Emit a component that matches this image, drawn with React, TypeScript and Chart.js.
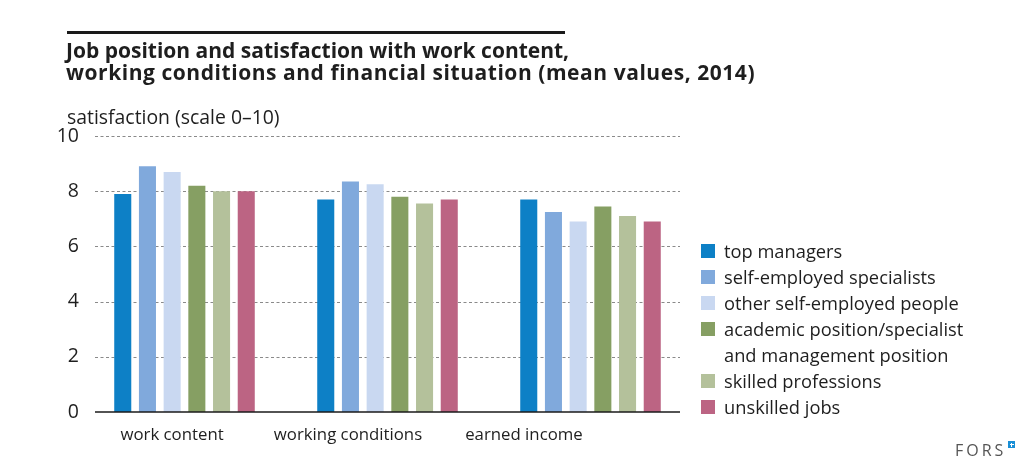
import React, { useEffect, useRef } from "react";
import { Chart, registerables } from "chart.js";

Chart.register(...registerables);

const categories = ["work content", "working conditions", "earned income"];
const seriesNames = [
  "top managers",
  "self-employed specialists",
  "other self-employed people",
  ["academic position/specialist", "and management position"],
  "skilled professions",
  "unskilled jobs",
];
const topManagers = [7.9, 7.7, 7.7];
const selfEmployedSpecialists = [8.9, 8.35, 7.25];
const otherSelfEmployed = [8.7, 8.25, 6.9];
const academicPosition = [8.2, 7.8, 7.45];
const skilledProfessions = [8.0, 7.55, 7.1];
const unskilledJobs = [8.0, 7.7, 6.9];
const seriesValues = [
  topManagers,
  selfEmployedSpecialists,
  otherSelfEmployed,
  academicPosition,
  skilledProfessions,
  unskilledJobs,
];
const seriesColors = ["#0d80c6", "#80a9dc", "#c9d8f1", "#869f63", "#b4c19b", "#bc6483"];
const yTicks = [0, 2, 4, 6, 8, 10];
const yAxisTitle = "satisfaction (scale 0–10)";
const titleLines = [
  "Job position and satisfaction with work content,",
  "working conditions and financial situation (mean values, 2014)",
];

const FONT = "'Open Sans', 'Noto Sans', sans-serif";
const TEXT = "#1e1e1e";
const GRID_LEFT = 95;
const GRID_RIGHT = 680;
const LABEL_MIN = -0.506;
const LABEL_MAX = 2.955;

const gridPlugin = {
  id: "customGrid",
  beforeDatasetsDraw(chart: any) {
    const ctx = chart.ctx;
    const y = chart.scales.y;
    ctx.save();
    ctx.strokeStyle = "#8a8a8a";
    ctx.lineWidth = 1.2;
    ctx.setLineDash([3, 2.5]);
    yTicks.forEach((t) => {
      if (t === 0) return;
      const py = Math.round(y.getPixelForValue(t)) + 0.5;
      ctx.beginPath();
      ctx.moveTo(GRID_LEFT, py);
      ctx.lineTo(GRID_RIGHT, py);
      ctx.stroke();
    });
    ctx.restore();
  },
  afterDatasetsDraw(chart: any) {
    const ctx = chart.ctx;
    const y = chart.scales.y;
    const py = y.getPixelForValue(0);
    ctx.save();
    ctx.strokeStyle = "#1a1a1a";
    ctx.lineWidth = 1.6;
    ctx.beginPath();
    ctx.moveTo(GRID_LEFT, py);
    ctx.lineTo(GRID_RIGHT, py);
    ctx.stroke();
    ctx.restore();
  },
};

export default function App() {
  const canvasRef = useRef<HTMLCanvasElement | null>(null);

  useEffect(() => {
    document.body.style.margin = "0";
    const canvas = canvasRef.current;
    if (!canvas) return;
    const chart = new Chart(canvas, {
      type: "bar",
      data: {
        labels: categories,
        datasets: seriesValues.map((vals, i) => ({
          label: Array.isArray(seriesNames[i]) ? (seriesNames[i] as string[]).join(" ") : (seriesNames[i] as string),
          data: vals,
          backgroundColor: seriesColors[i],
          borderWidth: 0,
          barPercentage: 0.69,
          categoryPercentage: 0.73,
        })),
      },
      options: {
        responsive: false,
        animation: false,
        devicePixelRatio: 1,
        layout: { padding: { top: 136, right: 343, left: 0, bottom: 0 } },
        plugins: {
          legend: { display: false },
          tooltip: { enabled: false },
          title: { display: false },
        },
        scales: {
          x: {
            type: "category",
            offset: true,
            grid: { display: false },
            border: { display: false },
            ticks: { display: false },
            afterFit: (s: any) => {
              s.height = 0;
            },
          },
          xl: {
            type: "linear",
            position: "bottom",
            offset: false,
            bounds: "data",
            min: LABEL_MIN,
            max: LABEL_MAX,
            grid: { display: false },
            border: { display: false },
            afterBuildTicks: (axis: any) => {
              axis.ticks = categories.map((_, i) => ({ value: i }));
            },
            ticks: {
              autoSkip: false,
              maxRotation: 0,
              padding: 5,
              color: TEXT,
              font: { family: FONT, size: 16.8 },
              callback: (v: any) => categories[v as number] ?? "",
            },
            afterFit: (s: any) => {
              s.height = 64;
            },
          },
          y: {
            type: "linear",
            min: 0,
            max: 10,
            grid: { display: false },
            border: { display: false },
            afterBuildTicks: (axis: any) => {
              axis.ticks = yTicks.map((v) => ({ value: v }));
            },
            ticks: {
              padding: -4,
              color: TEXT,
              font: { family: FONT, size: 19.5 },
            },
            afterFit: (s: any) => {
              s.width = 83;
            },
          },
        },
      },
      plugins: [gridPlugin],
    } as any);
    return () => chart.destroy();
  }, []);

  return (
    <div style={{ position: "relative", width: 1035, height: 476, fontFamily: FONT, color: TEXT, background: "#fff", overflow: "hidden" }}>
      <canvas ref={canvasRef} width={1035} height={476} style={{ position: "absolute", left: 0, top: 0 }} />
      <div style={{ position: "absolute", left: 67, top: 31, width: 498, height: 3, background: "#1a1a1a" }} />
      <div style={{ position: "absolute", left: 66, top: 39, fontWeight: 700, fontSize: 21, lineHeight: "22px", whiteSpace: "nowrap" }}>
        {titleLines.map((t, i) => (
          <div key={i} style={{ letterSpacing: i === 1 ? 0.55 : 0 }}>{t}</div>
        ))}
      </div>
      <div style={{ position: "absolute", left: 67, top: 104, fontSize: 19.4, lineHeight: "25px", whiteSpace: "nowrap" }}>{yAxisTitle}</div>
      <div style={{ position: "absolute", left: 701, top: 237.5 }}>
        {seriesNames.map((name, i) => {
          const lines = Array.isArray(name) ? name : [name];
          return (
            <div key={i} style={{ display: "flex", alignItems: "flex-start" }}>
              <div style={{ width: 14, height: 14, background: seriesColors[i], marginTop: 6, flex: "none" }} />
              <div style={{ marginLeft: 9, fontSize: 18.3, lineHeight: "26.1px", whiteSpace: "nowrap" }}>
                {lines.map((l, j) => (
                  <div key={j}>{l}</div>
                ))}
              </div>
            </div>
          );
        })}
      </div>
      <div style={{ position: "absolute", left: 955, top: 440, fontSize: 16, letterSpacing: 3, color: "#555", lineHeight: "20px" }}>FORS</div>
      <div style={{ position: "absolute", left: 1008, top: 441, width: 7, height: 7, background: "#1a8fd6" }}>
        <div style={{ position: "absolute", left: 3, top: 1.5, width: 1, height: 4, background: "#fff" }} />
        <div style={{ position: "absolute", left: 1.5, top: 3, width: 4, height: 1, background: "#fff" }} />
      </div>
    </div>
  );
}
